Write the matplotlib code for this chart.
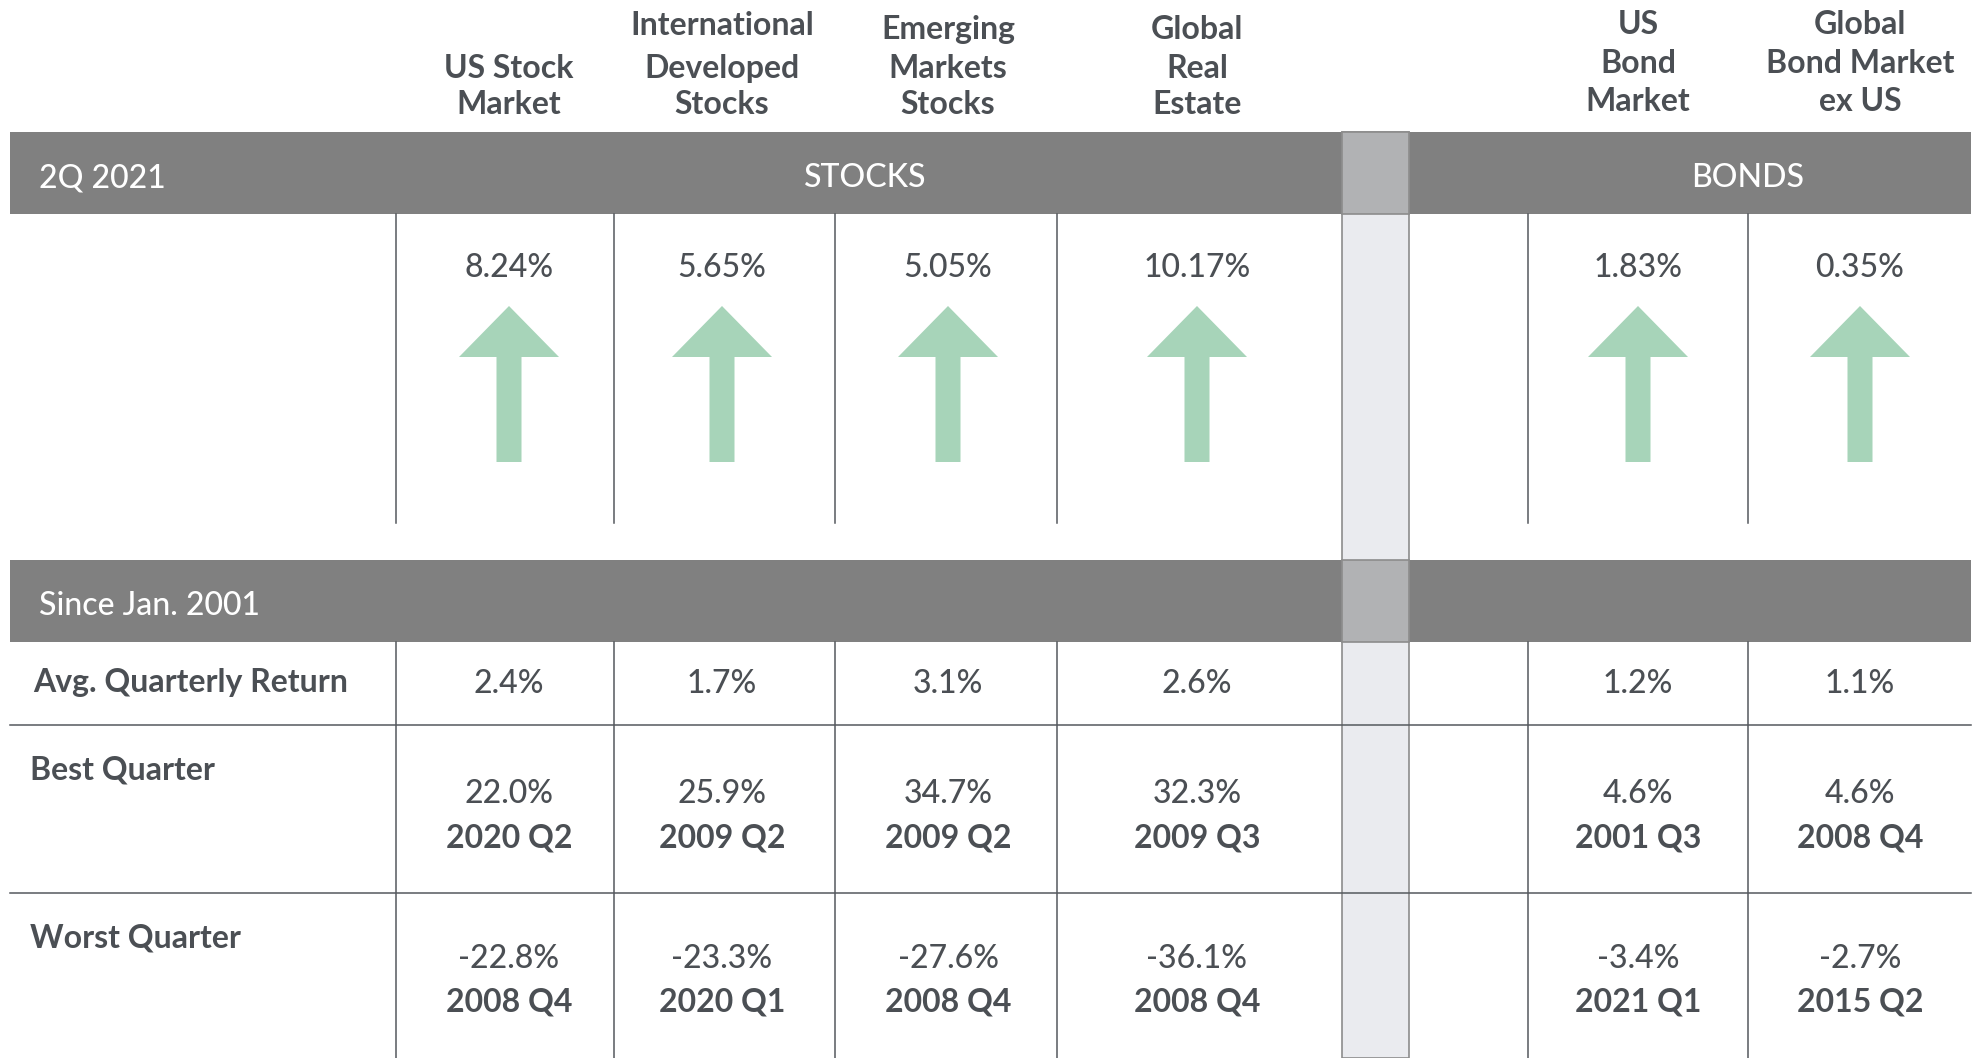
import matplotlib.pyplot as plt
from matplotlib.patches import Rectangle, Polygon

plt.rcParams["font.family"] = ["Lato", "DejaVu Sans"]

# data
asset_names = ["US Stock\nMarket", "International\nDeveloped\nStocks", "Emerging\nMarkets\nStocks",
               "Global\nReal\nEstate", "US\nBond\nMarket", "Global\nBond Market\nex US"]
asset_groups = ["STOCKS", "STOCKS", "STOCKS", "STOCKS", "BONDS", "BONDS"]
period_label = "2Q 2021"
quarter_returns = [8.24, 5.65, 5.05, 10.17, 1.83, 0.35]
since_label = "Since Jan. 2001"
row_labels = ["Avg. Quarterly Return", "Best Quarter", "Worst Quarter"]
avg_returns = [2.4, 1.7, 3.1, 2.6, 1.2, 1.1]
best_returns = [22.0, 25.9, 34.7, 32.3, 4.6, 4.6]
best_dates = ["2020 Q2", "2009 Q2", "2009 Q2", "2009 Q3", "2001 Q3", "2008 Q4"]
worst_returns = [-22.8, -23.3, -27.6, -36.1, -3.4, -2.7]
worst_dates = ["2008 Q4", "2020 Q1", "2008 Q4", "2008 Q4", "2021 Q1", "2015 Q2"]

# layout (pixels)
W, H = 1977, 1058
col_x = [509, 722, 948, 1197, 1638, 1860]
head_base = [114, 114, 114, 114, 111, 111]
head_gaps = [(36, 0), (36, 43), (36, 39), (36, 39), (38, 39), (38, 39)]
vlines_x = [396, 614, 835, 1057, 1528, 1748]
group_x = {"STOCKS": 865, "BONDS": 1748}
gap_x0, gap_x1 = 1342, 1409
left, right = 10, 1971

TEXT = "#4b4f54"
BAND = "#808080"
LINE = "#55595e"
ARROW_UP = "#a7d4b9"
ARROW_DOWN = "#e6a1a1"
FS = 23
REG = "medium"

fig = plt.figure(figsize=(W / 100, H / 100), dpi=100)
ax = fig.add_axes([0, 0, 1, 1])
ax.set_xlim(0, W)
ax.set_ylim(H, 0)
ax.axis("off")

# gap column
ax.add_patch(Rectangle((gap_x0, 132), gap_x1 - gap_x0, H - 132, facecolor="#eaebef",
                       edgecolor="#8c8c8c", lw=1.2, zorder=3))

# grey bands
for y0, y1, label in [(132, 214, period_label), (560, 642, since_label)]:
    ax.add_patch(Rectangle((left, y0), right - left, y1 - y0, facecolor=BAND, lw=0, zorder=2))
    ax.add_patch(Rectangle((gap_x0, y0), gap_x1 - gap_x0, y1 - y0, facecolor="#b1b2b4",
                           edgecolor="#8c8c8c", lw=1.2, zorder=4))
    ax.text(39, y0 + 55, label, color="white", fontsize=FS, fontweight=REG,
            va="baseline", ha="left", zorder=5)

for g in ["STOCKS", "BONDS"]:
    ax.text(group_x[g], 187, g, color="white", fontsize=FS, fontweight=REG,
            va="baseline", ha="center", zorder=5)

# column headers
for x, name, base, gaps in zip(col_x, asset_names, head_base, head_gaps):
    y = base
    for i, ln in enumerate(reversed(name.split("\n"))):
        ax.text(x, y, ln, color=TEXT, fontsize=FS, fontweight="bold", ha="center", va="baseline")
        if i < len(gaps):
            y -= gaps[i]

# grid lines
for x in vlines_x:
    ax.plot([x, x], [214, 523], color=LINE, lw=1.1, zorder=6)
    ax.plot([x, x], [642, H], color=LINE, lw=1.1, zorder=6)
for y in [725, 893]:
    ax.plot([left, right], [y, y], color=LINE, lw=1.1, zorder=6)

# quarter returns with arrows
for x, r in zip(col_x, quarter_returns):
    ax.text(x, 277, f"{r:.2f}%", color=TEXT, fontsize=FS, fontweight=REG, ha="center", va="baseline")
    if r >= 0:
        pts = [(x - 12.5, 462), (x - 12.5, 357), (x - 50, 357), (x, 306),
               (x + 50, 357), (x + 12.5, 357), (x + 12.5, 462)]
        col = ARROW_UP
    else:
        pts = [(x - 12.5, 306), (x - 12.5, 411), (x - 50, 411), (x, 462),
               (x + 50, 411), (x + 12.5, 411), (x + 12.5, 306)]
        col = ARROW_DOWN
    ax.add_patch(Polygon(pts, closed=True, facecolor=col, lw=0, zorder=5))

# since Jan. 2001 rows
ax.text(33, 692, row_labels[0], color=TEXT, fontsize=FS, fontweight="bold", va="baseline")
ax.text(30, 779, row_labels[1], color=TEXT, fontsize=FS, fontweight="bold", va="baseline")
ax.text(30, 947, row_labels[2], color=TEXT, fontsize=FS, fontweight="bold", va="baseline")

for x, a, b, bd, w, wd in zip(col_x, avg_returns, best_returns, best_dates, worst_returns, worst_dates):
    ax.text(x, 693, f"{a:.1f}%", color=TEXT, fontsize=FS, fontweight=REG, ha="center", va="baseline")
    ax.text(x, 803, f"{b:.1f}%", color=TEXT, fontsize=FS, fontweight=REG, ha="center", va="baseline")
    ax.text(x, 847, bd, color=TEXT, fontsize=FS, fontweight="bold", ha="center", va="baseline")
    ax.text(x, 968, f"{w:.1f}%", color=TEXT, fontsize=FS, fontweight=REG, ha="center", va="baseline")
    ax.text(x, 1011, wd, color=TEXT, fontsize=FS, fontweight="bold", ha="center", va="baseline")

fig.savefig("out.png", dpi=100)
